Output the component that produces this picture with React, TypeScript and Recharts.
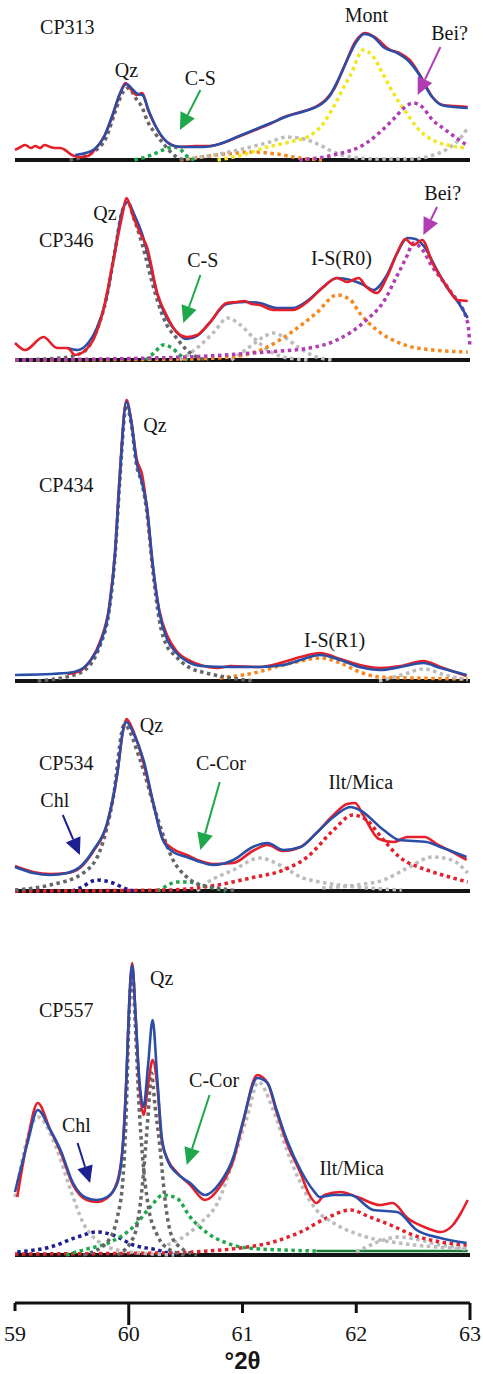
import React from 'react';
import { LineChart, Line, XAxis, YAxis, ReferenceLine, ReferenceDot, Label } from 'recharts';

type P = [number, number];

// ---------- x axis ----------
const xTicks = [59, 60, 61, 62, 63];
const xTickLen: Record<number, number> = { 59: 8, 60: 22, 61: 10, 62: 10, 63: 17 };

// ---------- CP313 ----------
const cp313Obs: P[] = [[59.00,10],[59.05,13],[59.09,15],[59.14,12],[59.18,14],[59.22,12],[59.26,15],[59.31,13],[59.35,12],[59.40,12],[59.44,10],[59.50,5],[59.57,3],[59.64,4],[59.70,10],[59.79,25],[59.86,45],[59.92,65],[59.97,77],[60.01,72],[60.07,65],[60.12,67],[60.17,50],[60.23,35],[60.30,22],[60.38,15],[60.45,13],[60.58,14],[60.71,14],[60.85,18],[60.98,24],[61.11,30],[61.24,36],[61.39,44],[61.51,48],[61.62,52],[61.73,60],[61.81,72],[61.90,95],[61.99,118],[62.08,127],[62.16,123],[62.30,110],[62.38,107],[62.47,100],[62.56,85],[62.67,63],[62.76,55],[62.87,54],[62.98,53]];
const cp313Calc: P[] = [[59.53,5],[59.62,7],[59.70,11],[59.79,25],[59.86,46],[59.92,66],[59.98,76],[60.03,71],[60.08,66],[60.12,65],[60.18,48],[60.24,33],[60.31,21],[60.40,14],[60.50,13],[60.65,13],[60.80,16],[60.95,23],[61.10,30],[61.25,37],[61.40,44],[61.55,49],[61.68,55],[61.76,63],[61.84,80],[61.92,100],[62.00,118],[62.07,126],[62.14,124],[62.25,112],[62.36,107],[62.46,99],[62.55,86],[62.66,64],[62.75,55],[62.86,53],[62.98,52]];
const cp313Qz: P[] = [[59.48,0],[59.70,9],[59.80,22],[59.88,48],[59.95,68],[60.00,72],[60.06,62],[60.12,52],[60.16,40],[60.23,27],[60.30,17],[60.36,9],[60.42,3],[60.50,0]];
const cp313CS: P[] = [[60.05,0],[60.20,5],[60.30,10],[60.39,13],[60.46,10],[60.52,3],[60.58,0]];
const cp313Orange: P[] = [[60.45,0],[60.70,4],[60.95,7],[61.10,8],[61.30,6],[61.50,2],[61.70,0]];
const cp313Gray: P[] = [[60.50,1],[60.80,6],[61.00,11],[61.24,18],[61.39,23],[61.50,22],[61.68,15],[61.80,8],[61.95,3],[62.20,1],[62.50,1],[62.65,4],[62.80,11],[62.90,20],[62.98,32]];
const cp313Mont: P[] = [[60.78,0],[61.00,5],[61.22,13],[61.45,19],[61.57,23],[61.70,35],[61.80,53],[61.90,75],[61.95,85],[62.06,110],[62.15,103],[62.23,87],[62.30,72],[62.38,57],[62.46,44],[62.53,33],[62.67,20],[62.80,15],[62.97,12]];
const cp313Bei: P[] = [[61.50,0],[61.80,5],[62.09,17],[62.20,27],[62.32,40],[62.42,52],[62.50,57],[62.58,53],[62.67,40],[62.75,33],[62.82,27],[62.97,15]];

// ---------- CP346 ----------
const cp346Obs: P[] = [[59.00,17],[59.09,10],[59.25,23],[59.37,12],[59.46,12],[59.53,5],[59.60,8],[59.70,23],[59.77,47],[59.86,97],[59.94,143],[59.98,162],[60.04,143],[60.10,127],[60.16,113],[60.25,67],[60.34,43],[60.42,28],[60.51,23],[60.60,25],[60.71,37],[60.86,57],[60.95,58],[61.02,59],[61.08,56],[61.15,55],[61.27,50],[61.44,50],[61.59,60],[61.71,73],[61.83,82],[61.92,78],[62.02,82],[62.09,73],[62.18,67],[62.27,83],[62.36,107],[62.43,121],[62.50,115],[62.58,120],[62.67,97],[62.80,73],[62.89,60],[62.98,59]];
const cp346Calc: P[] = [[59.46,12],[59.55,10],[59.65,18],[59.72,32],[59.80,60],[59.88,110],[59.94,148],[59.99,158],[60.05,145],[60.12,125],[60.18,100],[60.25,66],[60.33,43],[60.42,28],[60.51,21],[60.60,24],[60.71,37],[60.86,56],[61.02,58],[61.15,57],[61.30,52],[61.44,52],[61.58,60],[61.70,72],[61.83,82],[61.95,80],[62.05,76],[62.15,70],[62.27,85],[62.36,107],[62.45,122],[62.52,121],[62.60,113],[62.70,92],[62.80,72],[62.90,57],[62.98,42]];
const cp346Qz: P[] = [[59.00,0],[59.40,2],[59.60,8],[59.72,30],[59.80,60],[59.88,110],[59.94,148],[59.99,158],[60.05,140],[60.12,115],[60.20,80],[60.25,60],[60.33,36],[60.42,22],[60.51,10],[60.60,3],[60.70,0]];
const cp346CS: P[] = [[60.15,0],[60.23,8],[60.30,15],[60.38,12],[60.45,5],[60.52,0]];
const cp346GrayA: P[] = [[60.45,0],[60.60,12],[60.75,28],[60.87,42],[60.97,36],[61.10,22],[61.25,8],[61.40,2],[61.60,0]];
const cp346GrayB: P[] = [[60.90,0],[61.05,12],[61.20,24],[61.27,27],[61.35,24],[61.50,12],[61.65,3],[61.80,0]];
const cp346IS: P[] = [[59.00,0],[60.50,1],[60.90,3],[61.20,12],[61.42,27],[61.65,47],[61.83,65],[61.95,60],[62.03,47],[62.18,30],[62.38,17],[62.67,10],[62.98,8]];
const cp346Bei: P[] = [[59.00,0],[60.50,3],[61.20,8],[61.59,12],[61.83,20],[62.09,40],[62.25,60],[62.34,80],[62.45,105],[62.50,117],[62.57,112],[62.67,93],[62.82,70],[62.98,37],[63.00,12]];

// ---------- CP434 ----------
const cp434Obs: P[] = [[59.46,7],[59.57,10],[59.66,20],[59.75,40],[59.83,76],[59.88,130],[59.92,205],[59.98,281],[60.02,262],[60.07,222],[60.12,205],[60.16,172],[60.21,116],[60.27,70],[60.34,45],[60.42,30],[60.54,20],[60.63,16],[60.78,13],[60.90,15],[61.14,14],[61.30,17],[61.51,24],[61.68,28],[61.86,22],[62.03,16],[62.21,13],[62.39,15],[62.59,20],[62.74,14],[62.97,5]];
const cp434Calc: P[] = [[59.00,6],[59.46,8],[59.57,11],[59.66,20],[59.75,38],[59.83,74],[59.88,128],[59.92,201],[59.98,279],[60.02,261],[60.07,218],[60.11,201],[60.16,174],[60.21,118],[60.27,68],[60.34,41],[60.42,28],[60.54,18],[60.63,15],[60.90,14],[61.14,14],[61.36,16],[61.51,21],[61.68,26],[61.86,21],[62.03,14],[62.21,11],[62.39,14],[62.59,18],[62.74,13],[62.97,6]];
const cp434Qz: P[] = [[59.20,0],[59.57,8],[59.75,36],[59.83,72],[59.88,126],[59.92,198],[59.98,276],[60.02,258],[60.07,215],[60.12,196],[60.16,168],[60.21,112],[60.27,60],[60.34,34],[60.40,26],[60.54,13],[60.68,8],[60.85,4],[61.10,0]];
const cp434IS: P[] = [[60.80,3],[61.10,8],[61.36,16],[61.51,20],[61.68,23],[61.86,18],[62.03,9],[62.21,4],[62.50,3],[62.98,2]];
const cp434Gray: P[] = [[62.20,0],[62.40,6],[62.59,12],[62.78,6],[62.98,1]];

// ---------- CP534 ----------
const cp534Obs: P[] = [[59.00,25],[59.16,19],[59.31,17],[59.46,18],[59.57,23],[59.69,40],[59.81,67],[59.90,118],[59.95,160],[59.98,172],[60.04,160],[60.13,128],[60.21,90],[60.30,52],[60.39,42],[60.51,36],[60.63,30],[60.74,27],[60.92,28],[61.09,40],[61.22,46],[61.36,40],[61.51,44],[61.65,58],[61.80,76],[61.92,87],[61.99,88],[62.06,76],[62.20,52],[62.33,49],[62.45,54],[62.60,54],[62.72,46],[62.83,40],[62.97,31]];
const cp534Calc: P[] = [[59.00,24],[59.16,18],[59.31,16],[59.46,18],[59.57,24],[59.69,41],[59.81,68],[59.90,118],[59.95,161],[59.98,169],[60.04,158],[60.13,131],[60.21,91],[60.30,51],[60.39,39],[60.51,34],[60.63,29],[60.74,26],[60.92,31],[61.09,44],[61.22,48],[61.36,41],[61.51,44],[61.65,58],[61.80,74],[61.95,84],[62.03,81],[62.24,61],[62.38,51],[62.62,49],[62.74,44],[62.97,34]];
const cp534Qz: P[] = [[59.00,1],[59.31,6],[59.60,18],[59.75,41],[59.86,91],[59.96,166],[60.10,131],[60.25,74],[60.39,31],[60.51,14],[60.63,6],[60.78,3],[60.95,0]];
const cp534Chl: P[] = [[59.50,0],[59.57,3],[59.72,11],[59.86,8],[59.98,2],[60.05,0]];
const cp534CCor: P[] = [[60.25,0],[60.30,3],[60.42,9],[60.53,9],[60.63,6],[60.74,3],[60.85,0]];
const cp534GrayA: P[] = [[60.60,0],[60.70,9],[60.92,21],[61.15,33],[61.36,24],[61.51,14],[61.68,9],[61.85,6],[62.10,3],[62.40,1]];
const cp534GrayB: P[] = [[61.70,3],[62.00,6],[62.24,11],[62.45,23],[62.67,34],[62.84,31],[62.98,18]];
const cp534Ilt: P[] = [[59.00,0],[60.35,1],[60.78,6],[61.07,13],[61.36,21],[61.57,34],[61.80,61],[61.97,76],[62.09,71],[62.24,51],[62.38,34],[62.62,21],[62.82,14],[62.98,9]];

// ---------- CP557 ----------
const cp557Obs: P[] = [[59.02,58],[59.11,115],[59.20,152],[59.31,125],[59.40,103],[59.51,70],[59.63,55],[59.72,53],[59.81,57],[59.90,74],[59.95,114],[59.98,180],[60.00,240],[60.03,292],[60.06,240],[60.09,175],[60.13,140],[60.17,170],[60.21,195],[60.25,170],[60.29,115],[60.34,96],[60.42,83],[60.54,70],[60.67,55],[60.80,68],[60.92,95],[61.00,130],[61.13,180],[61.22,172],[61.30,143],[61.39,112],[61.51,82],[61.58,62],[61.65,52],[61.72,60],[61.86,63],[62.01,58],[62.21,50],[62.32,52],[62.45,37],[62.62,27],[62.74,23],[62.85,30],[62.92,42],[62.98,55]];
const cp557Calc: P[] = [[59.00,63],[59.11,112],[59.20,145],[59.31,125],[59.40,105],[59.51,72],[59.63,57],[59.72,55],[59.81,58],[59.90,72],[59.95,112],[59.98,178],[60.00,240],[60.03,290],[60.06,240],[60.09,180],[60.13,148],[60.17,190],[60.21,235],[60.25,178],[60.29,118],[60.34,95],[60.42,82],[60.54,72],[60.67,60],[60.80,72],[60.92,98],[61.00,132],[61.13,177],[61.22,172],[61.30,145],[61.39,115],[61.51,85],[61.62,65],[61.68,58],[61.80,60],[61.95,60],[62.15,45],[62.36,43],[62.53,25],[62.74,17],[62.97,12]];
const cp557Gray59: P[] = [[59.00,58],[59.20,138],[59.37,105],[59.48,68],[59.60,32],[59.75,12],[59.90,5],[60.10,2],[60.40,0]];
const cp557Qz1: P[] = [[59.60,0],[59.81,13],[59.90,38],[59.95,78],[59.98,150],[60.00,230],[60.03,285],[60.06,225],[60.09,150],[60.12,100],[60.17,50],[60.25,20],[60.35,6],[60.50,0]];
const cp557Qz2: P[] = [[59.90,0],[60.05,20],[60.12,70],[60.17,140],[60.20,182],[60.23,150],[60.27,112],[60.33,45],[60.38,18],[60.45,8],[60.60,0]];
const cp557Chl: P[] = [[59.02,3],[59.31,8],[59.55,18],[59.72,23],[59.86,20],[60.04,10],[60.25,5],[60.40,0]];
const cp557CCor: P[] = [[59.45,0],[59.60,5],[59.84,13],[60.04,28],[60.19,48],[60.30,60],[60.42,57],[60.54,38],[60.69,22],[60.86,12],[61.04,7],[61.36,5],[61.65,4]];
const cp557Gray61: P[] = [[60.34,10],[60.48,18],[60.63,32],[60.78,52],[60.92,95],[61.04,138],[61.14,173],[61.27,145],[61.39,105],[61.51,72],[61.65,45],[61.80,32],[62.09,18],[62.38,12],[62.97,6]];
const cp557GrayB: P[] = [[62.00,3],[62.09,8],[62.24,15],[62.38,18],[62.56,15],[62.74,10],[62.97,7]];
const cp557Ilt: P[] = [[59.00,1],[60.30,2],[60.70,4],[60.98,7],[61.27,13],[61.51,23],[61.74,37],[61.95,45],[62.12,38],[62.30,30],[62.50,20],[62.74,13],[62.97,10]];
const cp557Flat: P[] = [[61.65,4],[62.98,4]];

// ---------- colours ----------
const RED = '#e4202a';
const BLUE = '#2b4ea6';
const DGRAY = '#666666';
const LGRAY = '#bcbcbc';
const GREEN = '#1fa84b';
const ORANGE = '#f5891f';
const YELLOW = '#f2e61c';
const PURPLE = '#b03db3';
const NAVY = '#1d2090';

type Series = { pts: P[]; color: string; kind: 'dot' | 'obs' | 'calc' | 'flat' };
type Tag = { x: number; y: number; text: string };
type Arrow = { x1: number; y1: number; x2: number; y2: number; color: string };
type PanelSpec = {
  baseline: number;
  yMin: number;
  yMax: number;
  axis?: boolean;
  series: Series[];
  tags: Tag[];
  arrows: Arrow[];
};

const dot = (pts: P[], color: string): Series => ({ pts, color, kind: 'dot' });

const panels: PanelSpec[] = [
  {
    baseline: 160, yMin: 0, yMax: 160,
    series: [
      dot(cp313Orange, ORANGE), dot(cp313Gray, LGRAY), dot(cp313CS, GREEN), dot(cp313Qz, DGRAY),
      dot(cp313Mont, YELLOW), dot(cp313Bei, PURPLE),
      { pts: cp313Obs, color: RED, kind: 'obs' }, { pts: cp313Calc, color: BLUE, kind: 'calc' },
    ],
    tags: [
      { x: 59.46, y: 133, text: 'CP313' }, { x: 59.98, y: 90, text: 'Qz' }, { x: 60.63, y: 82, text: 'C-S' },
      { x: 62.09, y: 145, text: 'Mont' }, { x: 62.82, y: 127, text: 'Bei?' },
    ],
    arrows: [
      { x1: 60.63, y1: 70, x2: 60.45, y2: 30, color: GREEN },
      { x1: 62.74, y1: 113, x2: 62.54, y2: 65, color: PURPLE },
    ],
  },
  {
    baseline: 360, yMin: 0, yMax: 180,
    series: [
      dot(cp346GrayA, LGRAY), dot(cp346GrayB, LGRAY), dot(cp346CS, GREEN), dot(cp346IS, ORANGE),
      dot(cp346Qz, DGRAY), dot(cp346Bei, PURPLE),
      { pts: cp346Calc, color: BLUE, kind: 'calc' }, { pts: cp346Obs, color: RED, kind: 'obs' },
    ],
    tags: [
      { x: 59.45, y: 120, text: 'CP346' }, { x: 59.79, y: 147, text: 'Qz' }, { x: 60.65, y: 100, text: 'C-S' },
      { x: 61.87, y: 102, text: 'I-S(R0)' }, { x: 62.76, y: 167, text: 'Bei?' },
    ],
    arrows: [
      { x1: 60.63, y1: 85, x2: 60.48, y2: 37, color: GREEN },
      { x1: 62.71, y1: 153, x2: 62.59, y2: 125, color: PURPLE },
    ],
  },
  {
    baseline: 681, yMin: 0, yMax: 291,
    series: [
      dot(cp434IS, ORANGE), dot(cp434Gray, LGRAY), dot(cp434Qz, DGRAY),
      { pts: cp434Obs, color: RED, kind: 'obs' }, { pts: cp434Calc, color: BLUE, kind: 'calc' },
    ],
    tags: [
      { x: 60.23, y: 256, text: 'Qz' }, { x: 59.45, y: 196, text: 'CP434' }, { x: 61.81, y: 41, text: 'I-S(R1)' },
    ],
    arrows: [],
  },
  {
    baseline: 891, yMin: 0, yMax: 191,
    series: [
      dot(cp534GrayA, LGRAY), dot(cp534GrayB, LGRAY), dot(cp534Chl, NAVY), dot(cp534CCor, GREEN),
      dot(cp534Ilt, RED), dot(cp534Qz, DGRAY),
      { pts: cp534Obs, color: RED, kind: 'obs' }, { pts: cp534Calc, color: BLUE, kind: 'calc' },
    ],
    tags: [
      { x: 60.20, y: 166, text: 'Qz' }, { x: 59.45, y: 128, text: 'CP534' }, { x: 59.35, y: 91, text: 'Chl' },
      { x: 60.81, y: 128, text: 'C-Cor' }, { x: 62.04, y: 109, text: 'Ilt/Mica' },
    ],
    arrows: [
      { x1: 59.42, y1: 76, x2: 59.57, y2: 36, color: NAVY },
      { x1: 60.80, y1: 109, x2: 60.63, y2: 41, color: GREEN },
    ],
  },
  {
    baseline: 1255, yMin: -48, yMax: 305, axis: true,
    series: [
      { pts: cp557Flat, color: '#1a7a35', kind: 'flat' },
      dot(cp557GrayB, LGRAY), dot(cp557Ilt, RED), dot(cp557Chl, NAVY), dot(cp557CCor, GREEN),
      dot(cp557Gray59, LGRAY), dot(cp557Gray61, LGRAY), dot(cp557Qz2, DGRAY), dot(cp557Qz1, DGRAY),
      { pts: cp557Obs, color: RED, kind: 'obs' }, { pts: cp557Calc, color: BLUE, kind: 'calc' },
    ],
    tags: [
      { x: 59.45, y: 245, text: 'CP557' }, { x: 60.29, y: 277, text: 'Qz' }, { x: 59.54, y: 130, text: 'Chl' },
      { x: 60.75, y: 175, text: 'C-Cor' }, { x: 61.96, y: 87, text: 'Ilt/Mica' },
    ],
    arrows: [
      { x1: 59.55, y1: 112, x2: 59.66, y2: 72, color: NAVY },
      { x1: 60.71, y1: 160, x2: 60.51, y2: 90, color: GREEN },
    ],
  },
];

const SERIF = '"Liberation Serif", "Times New Roman", serif';
const TICK_SIZE = 12;
const TICK_MARGIN = 10;

const arrowShape = (color: string) => (props: any) => {
  const { x1, y1, x2, y2 } = props;
  const dx = x2 - x1;
  const dy = y2 - y1;
  const len = Math.hypot(dx, dy) || 1;
  const ux = dx / len;
  const uy = dy / len;
  const head = 17;
  const half = 8;
  const bx = x2 - ux * head;
  const by = y2 - uy * head;
  const pts = `${x2},${y2} ${bx - uy * half},${by + ux * half} ${bx + uy * half},${by - ux * half}`;
  return (
    <g>
      <line x1={x1} y1={y1} x2={bx} y2={by} stroke={color} strokeWidth={2} />
      <polygon points={pts} fill={color} />
    </g>
  );
};

const tagShape = (text: string) => (props: any) => (
  <text
    x={props.cx}
    y={props.cy}
    textAnchor="middle"
    dominantBaseline="central"
    fontFamily={SERIF}
    fontSize={20}
    fill="#161616"
  >
    {text}
  </text>
);

const AxisTick = (props: any) => {
  const { x, y, payload } = props;
  const axisY = y - TICK_SIZE - TICK_MARGIN;
  const len = xTickLen[payload.value] ?? TICK_SIZE;
  return (
    <g>
      <line x1={x} y1={axisY} x2={x} y2={axisY + len} stroke="#111" strokeWidth={3} />
      <text x={x} y={y} dy="0.71em" textAnchor="middle" fontFamily={SERIF} fontSize={22} fill="#161616">
        {payload.value}
      </text>
    </g>
  );
};

function renderPanel(spec: PanelSpec, idx: number) {
  const plotH = spec.yMax - spec.yMin;
  const axisH = 70;
  const top = spec.baseline - spec.yMax;
  const height = spec.axis ? plotH + axisH : plotH + 6;
  return (
    <div key={idx} style={{ position: 'absolute', left: 0, top }}>
      <LineChart
        width={483}
        height={height}
        margin={{ top: 0, right: 13, left: 15, bottom: spec.axis ? 0 : 6 }}
      >
        <XAxis
          type="number"
          dataKey="x"
          domain={[59, 63]}
          ticks={xTicks}
          hide={!spec.axis}
          height={axisH}
          axisLine={{ stroke: '#111', strokeWidth: 3 }}
          tickLine={false}
          tickSize={TICK_SIZE}
          tickMargin={TICK_MARGIN}
          tick={<AxisTick />}
        >
          {spec.axis ? (
            <Label
              value="°2θ"
              position="insideBottom"
              offset={4}
              style={{ fontSize: 24, fontWeight: 'bold', fontFamily: '"Liberation Sans", Arial, sans-serif', fill: '#161616' }}
            />
          ) : null}
        </XAxis>
        <YAxis type="number" domain={[spec.yMin, spec.yMax]} hide />
        <ReferenceLine y={0} stroke="#141414" strokeWidth={4} />
        {spec.series.map((s, i) => (
          <Line
            key={i}
            data={s.pts.map(([x, y]) => ({ x, y }))}
            dataKey="y"
            type="monotone"
            stroke={s.color}
            strokeWidth={s.kind === 'dot' ? 3.5 : s.kind === 'flat' ? 2.5 : 2.6}
            strokeDasharray={s.kind === 'dot' ? '3.5 3.5' : undefined}
            dot={false}
            activeDot={false}
            isAnimationActive={false}
          />
        ))}
        {spec.arrows.map((a, i) => (
          <ReferenceLine
            key={`a${i}`}
            segment={[{ x: a.x1, y: a.y1 }, { x: a.x2, y: a.y2 }]}
            ifOverflow="visible"
            stroke={a.color}
            shape={arrowShape(a.color)}
          />
        ))}
        {spec.tags.map((t, i) => (
          <ReferenceDot
            key={`t${i}`}
            x={t.x}
            y={t.y}
            r={0}
            ifOverflow="visible"
            shape={tagShape(t.text)}
          />
        ))}
      </LineChart>
    </div>
  );
}

export default function App() {
  return (
    <div style={{ position: 'absolute', left: 0, top: 0, width: 483, height: 1374, background: '#fff', overflow: 'hidden' }}>
      {panels.map((p, i) => renderPanel(p, i))}
    </div>
  );
}
